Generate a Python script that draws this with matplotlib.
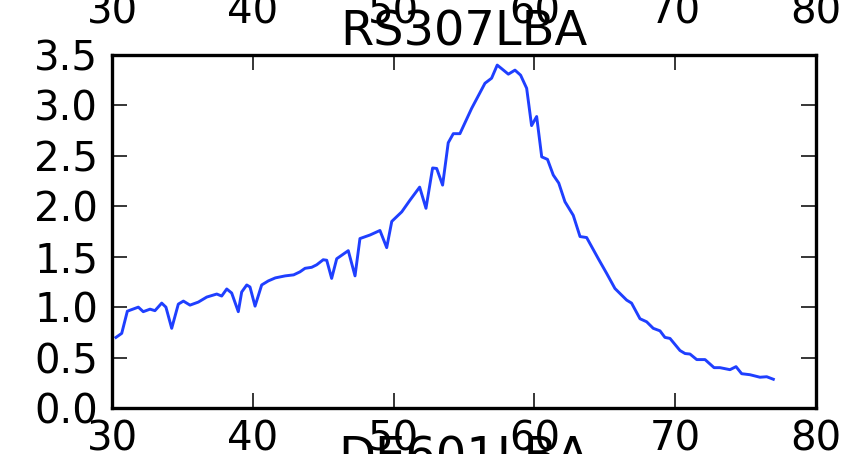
"""Spectre de la station RS307LBA (panneau recadré d'une grille de sous-figures)."""
import matplotlib
matplotlib.use("Agg")
import matplotlib.pyplot as plt

# Valeurs
freq_mhz = [30.28, 30.69, 31.09, 31.87, 32.22, 32.70, 33.05, 33.53, 33.83, 34.24,
            34.71, 35.07, 35.54, 36.13, 36.73, 37.44, 37.79, 38.15, 38.50, 38.97,
            39.21, 39.57, 39.80, 40.16, 40.63, 41.10, 41.60, 42.30, 42.90, 43.35,
            43.71, 44.18, 44.54, 45.00, 45.25, 45.60, 45.96, 46.78, 47.26, 47.61,
            48.32, 49.03, 49.51, 49.87, 50.58, 51.16, 51.85, 52.30, 52.77, 53.06,
            53.48, 53.88, 54.24, 54.71, 55.54, 56.49, 56.96, 57.36, 57.67, 58.15,
            58.62, 59.02, 59.45, 59.80, 60.16, 60.52, 60.93, 61.34, 61.73, 62.17,
            62.76, 63.24, 63.71, 64.54, 65.13, 65.72, 66.55, 66.90, 67.50, 67.97,
            68.44, 68.92, 69.27, 69.63, 70.34, 70.70, 71.05, 71.53, 72.12, 72.76,
            73.18, 73.89, 74.32, 74.72, 75.31, 76.02, 76.50, 76.97]
power = [0.70, 0.74, 0.96, 1.00, 0.955, 0.98, 0.965, 1.04, 1.00, 0.79,
         1.03, 1.06, 1.02, 1.05, 1.10, 1.13, 1.11, 1.18, 1.14, 0.955,
         1.15, 1.22, 1.20, 1.01, 1.22, 1.26, 1.29, 1.31, 1.32, 1.35,
         1.385, 1.395, 1.42, 1.47, 1.465, 1.285, 1.48, 1.56, 1.31, 1.68,
         1.715, 1.76, 1.59, 1.85, 1.945, 2.06, 2.19, 1.98, 2.38, 2.375,
         2.21, 2.63, 2.72, 2.72, 2.97, 3.22, 3.27, 3.40, 3.365, 3.31,
         3.35, 3.30, 3.17, 2.80, 2.89, 2.49, 2.465, 2.31, 2.23, 2.045,
         1.91, 1.70, 1.69, 1.48, 1.335, 1.185, 1.07, 1.04, 0.885, 0.855,
         0.79, 0.765, 0.70, 0.69, 0.57, 0.54, 0.535, 0.48, 0.48, 0.40,
         0.40, 0.38, 0.41, 0.34, 0.33, 0.305, 0.31, 0.285]

station = "RS307LBA"
next_station = "DE601LBA"
xticks = [30, 40, 50, 60, 70, 80]
yticks = [0.0, 0.5, 1.0, 1.5, 2.0, 2.5, 3.0, 3.5]

plt.rcParams.update({
    "font.family": "DejaVu Sans",
    "font.size": 29,
    "axes.linewidth": 2.4,
    "xtick.direction": "in",
    "ytick.direction": "in",
    "xtick.top": True,
    "ytick.right": True,
    "xtick.major.size": 10.5,
    "ytick.major.size": 10.5,
    "xtick.major.width": 1.1,
    "ytick.major.width": 1.1,
    "xtick.major.pad": 8,
    "ytick.major.pad": 10,
})

W, H = 855, 454
fig = plt.figure(figsize=(W / 100, H / 100), dpi=100)

left, width = 112 / W, 704 / W
ax_h = 353 / H


def style(ax):
    ax.set_xlim(30, 80)
    ax.set_ylim(0, 3.5)
    ax.set_xticks(xticks)
    ax.set_xticklabels([str(t) for t in xticks])
    ax.set_yticks(yticks)
    ax.set_yticklabels([f"{t:.1f}" for t in yticks])


# panneau du dessus (seules ses étiquettes x sont visibles)
ax_top = fig.add_axes([left, 1 + 19 / H, width, ax_h])
style(ax_top)

# panneau principal
ax = fig.add_axes([left, 1 - 408 / H, width, ax_h])
style(ax)
ax.plot(freq_mhz, power, color="#1f3fff", lw=2.1)
ax.set_title(station, fontsize=34.5, pad=7)

# panneau du dessous (seul son titre dépasse)
below_top = 1 - 481 / H
ax_bot = fig.add_axes([left, below_top - ax_h, width, ax_h])
style(ax_bot)
ax_bot.set_title(next_station, fontsize=34.5, pad=7)

fig.savefig("out.png", dpi=100)
